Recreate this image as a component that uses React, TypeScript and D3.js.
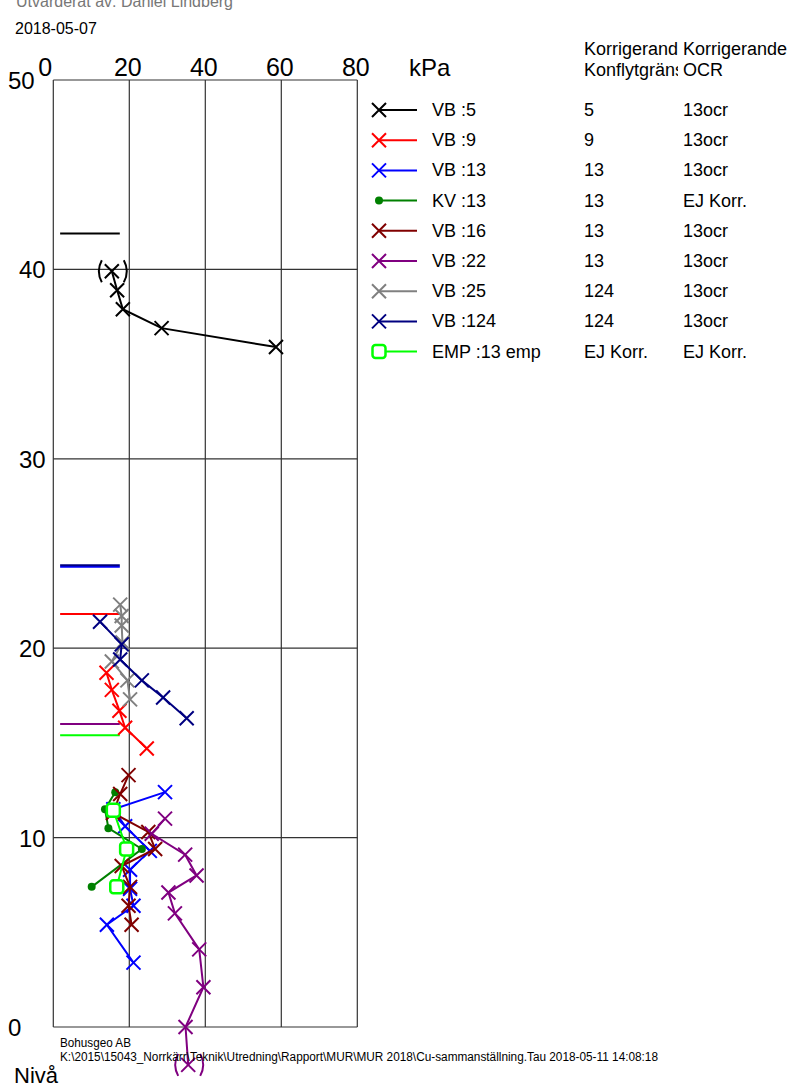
import React from "react";
import * as d3 from "d3";

type Pt = [number, number];

// kPa, nivå
const vb5: Pt[] = [[15.4, 39.9], [16.8, 38.9], [18.3, 37.9], [28.5, 36.9], [58.6, 35.9]];
const vb9: Pt[] = [[14.0, 18.7], [15.4, 17.8], [17.4, 16.7], [18.9, 15.8], [24.6, 14.7]];
const vb13: Pt[] = [[29.4, 12.4], [15.8, 11.5], [18.9, 10.6], [25.4, 9.3], [20.2, 8.3], [20.2, 7.3], [21.1, 6.4], [14.1, 5.4], [21.1, 3.4]];
const kv13: Pt[] = [[16.3, 12.4], [13.6, 11.5], [14.5, 10.5], [23.3, 9.4], [10.1, 7.4]];
const vb16: Pt[] = [[19.8, 13.3], [17.6, 12.3], [15.7, 11.3], [25.0, 10.3], [26.8, 9.4], [18.0, 8.5], [20.2, 7.4], [19.8, 6.4], [20.6, 5.4]];
const vb22: Pt[] = [[29.4, 11.0], [25.9, 10.2], [34.7, 9.1], [37.7, 8.0], [30.3, 7.1], [32.0, 6.0], [38.4, 4.1], [39.5, 2.1], [34.8, 0.0], [35.5, -2.0]];
const vb25: Pt[] = [[17.6, 22.3], [18.0, 21.7], [18.0, 21.2], [18.2, 20.3], [15.4, 19.3], [19.5, 18.3], [20.2, 17.3]];
const vb124: Pt[] = [[12.3, 21.4], [18.0, 20.2], [17.6, 19.4], [23.3, 18.3], [28.9, 17.4], [35.1, 16.3]];
const emp13: Pt[] = [[15.8, 11.45], [19.3, 9.4], [16.7, 7.4]];

// points shown in brackets (excluded): series index, point
const excluded: [number, Pt][] = [[0, [15.4, 39.9]], [5, [35.5, -2.0]]];

const seriesNames = ["VB :5", "VB :9", "VB :13", "KV :13", "VB :16", "VB :22", "VB :25", "VB :124", "EMP :13 emp"];
const seriesColors = ["#000000", "#ff0000", "#0000ff", "#008000", "#800000", "#800080", "#808080", "#000080", "#00ff00"];
const seriesMarkers = ["x", "x", "x", "dot", "x", "x", "x", "x", "square"];
const seriesData = [vb5, vb9, vb13, kv13, vb16, vb22, vb25, vb124, emp13];
const konflyt = ["5", "9", "13", "13", "13", "13", "124", "124", "EJ Korr."];
const ocr = ["13ocr", "13ocr", "13ocr", "EJ Korr.", "13ocr", "13ocr", "13ocr", "13ocr", "EJ Korr."];

// horizontal level marks: series index, nivå
const levelMarks: [number, number][] = [[0, 41.9], [2, 24.3], [7, 24.38], [1, 21.8], [5, 16.0], [8, 15.4]];
const levelSpan = [1.8, 17.5];

const xTicks = [0, 20, 40, 60, 80];
const yTicks = [0, 10, 20, 30, 40, 50];

const W = 791;
const H = 1088;
const font = "'Liberation Sans', Arial, sans-serif";

const Marker = ({ type, cx, cy, color }: { type: string; cx: number; cy: number; color: string }) => {
  if (type === "dot") return <circle cx={cx} cy={cy} r={4} fill={color} />;
  if (type === "square")
    return <rect x={cx - 6.5} y={cy - 6.5} width={13} height={13} rx={3} fill="#fff" stroke={color} strokeWidth={2.5} />;
  const s = 7;
  return (
    <path d={`M${cx - s},${cy - s}L${cx + s},${cy + s}M${cx - s},${cy + s}L${cx + s},${cy - s}`} stroke={color} strokeWidth={2} fill="none" />
  );
};

export default function App() {
  const x = d3.scaleLinear().domain([0, 80]).range([53.3, 357.3]);
  const y = d3.scaleLinear().domain([0, 50]).range([1027, 80]);
  const line = d3.line<Pt>().x((d) => x(d[0])).y((d) => y(d[1]));

  const legX = 370;
  const legY0 = 110;
  const legStep = 30.2;

  return (
    <div style={{ position: "absolute", left: 0, top: 0 }}>
      <svg width={W} height={H} style={{ display: "block", fontFamily: font }}>
        <rect width={W} height={H} fill="#fff" />
        <defs>
          <clipPath id="col2">
            <rect x={580} y={0} width={98} height={100} />
          </clipPath>
        </defs>

        <text x={16} y={7} fontSize={16} fill="#777">Utvärderat av: Daniel Lindberg</text>
        <text x={15} y={34} fontSize={16}>2018-05-07</text>

        {/* grid */}
        {xTicks.map((t) => (
          <line key={"gx" + t} x1={x(t)} x2={x(t)} y1={y(50)} y2={y(0)} stroke="#333" strokeWidth={1.2} />
        ))}
        {yTicks.map((t) => (
          <line key={"gy" + t} x1={x(0)} x2={x(80)} y1={y(t)} y2={y(t)} stroke="#333" strokeWidth={1.2} />
        ))}

        {/* axis labels */}
        {xTicks.map((t) => (
          <text key={"xl" + t} x={t === 0 ? x(t) - 8 : x(t) - 1.5} y={76} fontSize={25} textAnchor="middle">
            {t}
          </text>
        ))}
        {yTicks.map((t) => (
          <text key={"yl" + t} x={t === 0 ? 8 : t === 50 ? 8 : 19} y={y(t) + 9} fontSize={24}>
            {t}
          </text>
        ))}
        <text x={409} y={76} fontSize={24}>kPa</text>
        <text x={14} y={1083} fontSize={22}>Nivå</text>

        {/* level marks */}
        {levelMarks.map(([si, lv], i) => (
          <line key={"lm" + i} x1={x(levelSpan[0])} x2={x(levelSpan[1])} y1={y(lv)} y2={y(lv)} stroke={seriesColors[si]} strokeWidth={2} />
        ))}

        {/* series */}
        {seriesData.map((data, si) => (
          <g key={"s" + si}>
            <path d={line(data) || ""} fill="none" stroke={seriesColors[si]} strokeWidth={2} />
            {data.map((d, i) => (
              <Marker key={i} type={seriesMarkers[si]} cx={x(d[0])} cy={y(d[1])} color={seriesColors[si]} />
            ))}
          </g>
        ))}

        {/* brackets for excluded points */}
        {excluded.map(([si, p], i) => {
          const cx = x(p[0]);
          const cy = y(p[1]);
          return (
            <g key={"ex" + i} stroke={seriesColors[si]} strokeWidth={2} fill="none">
              <path d={`M${cx - 10},${cy - 11}Q${cx - 16},${cy} ${cx - 10},${cy + 11}`} />
              <path d={`M${cx + 12},${cy - 11}Q${cx + 18},${cy} ${cx + 12},${cy + 11}`} />
            </g>
          );
        })}

        {/* legend */}
        <text x={584} y={55} fontSize={18} clipPath="url(#col2)">Korrigerande</text>
        <text x={683} y={55} fontSize={18}>Korrigerande</text>
        <text x={584} y={76} fontSize={18} clipPath="url(#col2)">Konflytgräns</text>
        <text x={683} y={76} fontSize={18}>OCR</text>
        {seriesNames.map((name, i) => {
          const ly = legY0 + i * legStep;
          return (
            <g key={"lg" + i}>
              <line x1={legX + 8} x2={legX + 47} y1={ly} y2={ly} stroke={seriesColors[i]} strokeWidth={2} />
              <Marker type={seriesMarkers[i]} cx={legX + 9} cy={ly} color={seriesColors[i]} />
              <text x={432} y={ly + 6} fontSize={18}>{name}</text>
              <text x={584} y={ly + 6} fontSize={18}>{konflyt[i]}</text>
              <text x={683} y={ly + 6} fontSize={18}>{ocr[i]}</text>
            </g>
          );
        })}

        {/* footer */}
        <text x={60} y={1047} fontSize={12.5} textLength={71} lengthAdjust="spacingAndGlyphs">Bohusgeo AB</text>
        <text x={60} y={1061} fontSize={12.5} textLength={598} lengthAdjust="spacingAndGlyphs">
          K:\2015\15043_Norrkärr\Teknik\Utredning\Rapport\MUR\MUR 2018\Cu-sammanställning.Tau  2018-05-11 14:08:18
        </text>
      </svg>
    </div>
  );
}
